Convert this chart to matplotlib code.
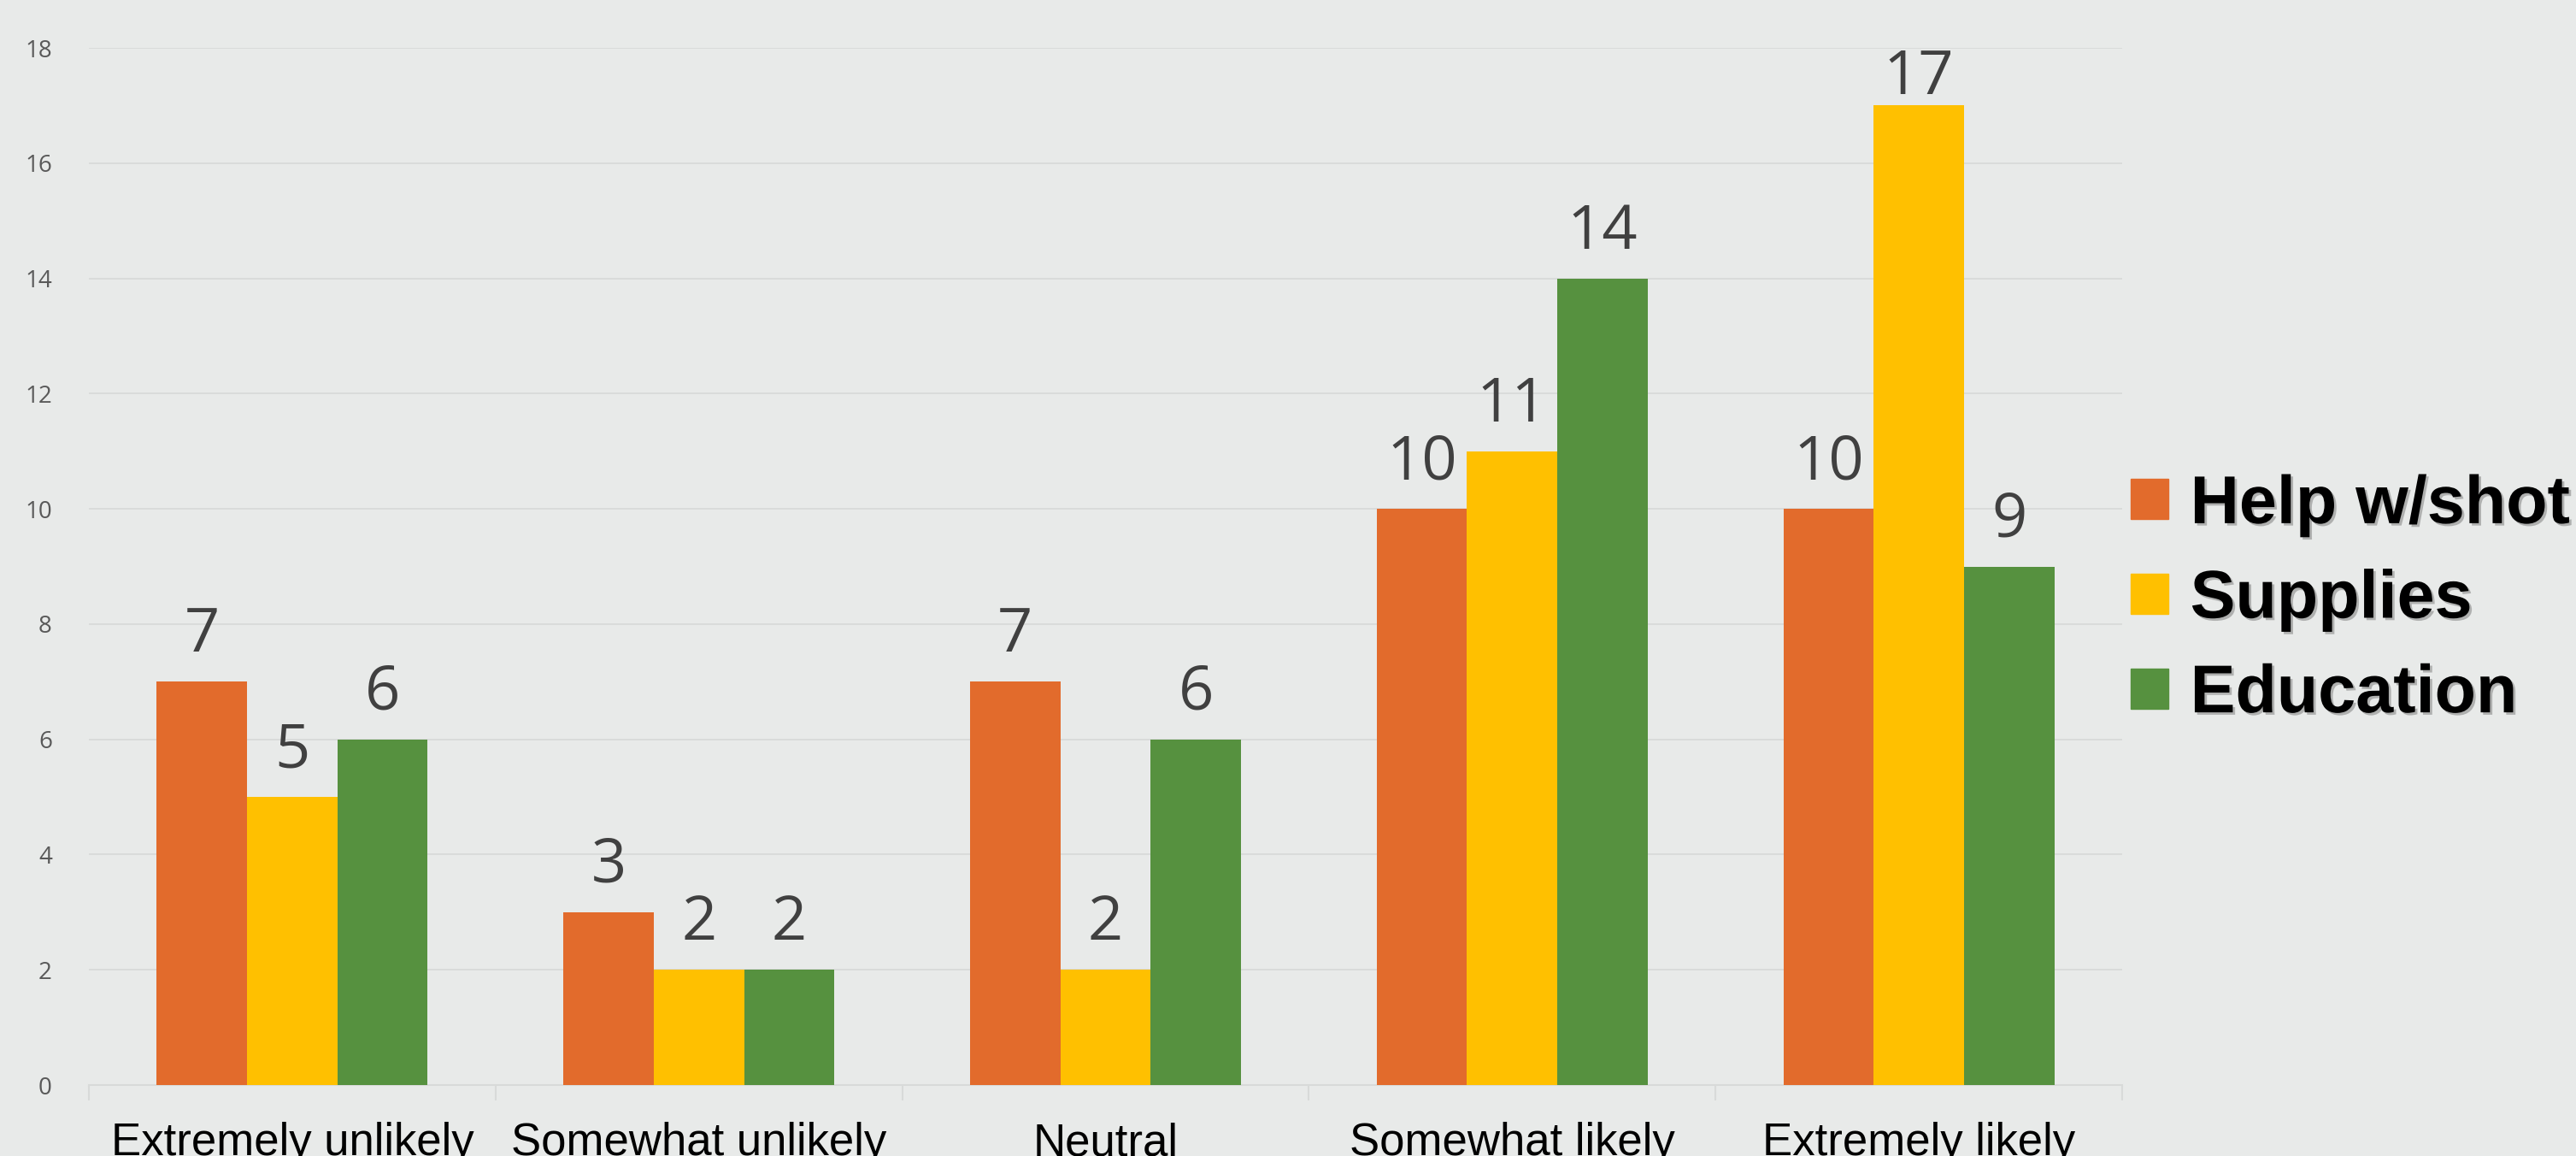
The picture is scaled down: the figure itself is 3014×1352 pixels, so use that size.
import matplotlib
matplotlib.use("Agg")
import matplotlib.pyplot as plt
import matplotlib.patheffects as pe
import numpy as np

# Survey responses per likelihood category
categories = ["Extremely unlikely", "Somewhat unlikely", "Neutral",
              "Somewhat likely", "Extremely likely"]
series_names = ["Help w/shot", "Supplies", "Education"]
help_shot = [7, 3, 7, 10, 10]
supplies = [5, 2, 2, 11, 17]
education = [6, 2, 6, 14, 9]
y_ticks = [0, 2, 4, 6, 8, 10, 12, 14, 16, 18]

series_values = [help_shot, supplies, education]
colors = ["#E26B2C", "#FFC000", "#56913F"]
bg = "#E8EAE9"
grid_c = "#D8DAD9"

fig = plt.figure(figsize=(30.14, 13.52), dpi=100, facecolor=bg)
ax = fig.add_axes([104 / 3014, 1 - 1269 / 1352, (2483 - 104) / 3014, (1269 - 56) / 1352])
ax.set_facecolor(bg)

x = np.arange(len(categories))
bar_w = 0.222
ymax = 18
for i, (vals, col) in enumerate(zip(series_values, colors)):
    pos = x + (i - 1) * bar_w
    ax.bar(pos, vals, width=bar_w, color=col, edgecolor="none", zorder=3)
    for px, v in zip(pos, vals):
        ly = min(v + 0.52, ymax - 0.80)
        ax.text(px, ly, str(v), ha="center", va="baseline", fontsize=52,
                family="Open Sans", color="#404040", clip_on=False, zorder=4)

ax.set_xlim(-0.5, len(categories) - 0.5)
ax.set_ylim(0, ymax)
ax.set_yticks(y_ticks)
ax.set_yticklabels([str(t) for t in y_ticks], family="Open Sans",
                   fontsize=20, color="#595959")
ax.tick_params(axis="y", length=0, pad=31)
ax.yaxis.grid(True, color=grid_c, linewidth=1.3, zorder=0)

# Category boundaries carry the tick marks; labels sit at the centres
ax.set_xticks(np.arange(len(categories) + 1) - 0.5)
ax.set_xticklabels([])
ax.tick_params(axis="x", which="major", length=13, width=1.5, color=grid_c)
ax.set_xticks(x, minor=True)
ax.set_xticklabels(categories, minor=True, family="Liberation Sans",
                   fontsize=38, color="black")
ax.tick_params(axis="x", which="minor", length=0, pad=31)

for s in ["top", "right", "left"]:
    ax.spines[s].set_visible(False)
ax.spines["bottom"].set_color(grid_c)
ax.spines["bottom"].set_linewidth(1.5)

handles = [plt.Rectangle((0, 0), 1, 1, color=c) for c in colors]
leg = fig.legend(handles, series_names, loc="center left",
                 bbox_to_anchor=(2493 / 3014, 1 - 702 / 1352),
                 frameon=False, borderpad=0, borderaxespad=0,
                 handlelength=0.56, handleheight=0.54, handletextpad=0.32,
                 labelspacing=0.45,
                 prop={"family": "Liberation Sans", "weight": "bold", "size": 57})
for t in leg.get_texts():
    t.set_path_effects([pe.SimplePatchShadow(offset=(2, -2), shadow_rgbFace="#777777", alpha=0.5),
                        pe.Normal()])

fig.savefig("out.png", dpi=100, facecolor=bg)
